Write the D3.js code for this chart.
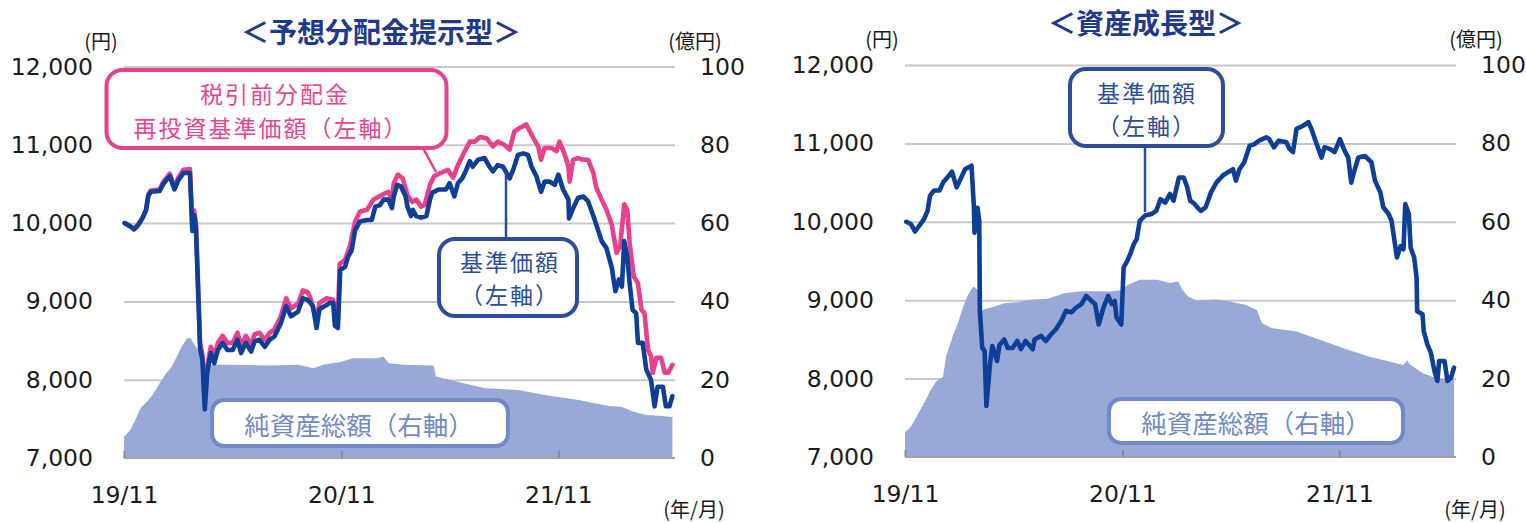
<!DOCTYPE html>
<html><head><meta charset="utf-8">
<script src="https://cdn.jsdelivr.net/npm/d3@7"></script>
<style>
body{margin:0;background:#fff;}
svg text{font-family:"Noto Sans CJK JP","DejaVu Sans",sans-serif;}
</style></head><body>
<svg id="c" width="1526" height="523"></svg>
<script>
// ---------- DATA ----------
const xTickDates = ["2019-11-01","2020-11-01","2021-11-01"];
const xTickLabels = ["19/11","20/11","21/11"];
const leftTicks = [7000,8000,9000,10000,11000,12000];
const rightTicks = [0,20,40,60,80,100];
const dateStart = "2019-11-01", dateEnd = "2022-05-13";

// 予想分配金提示型 基準価額 (円)
const navA = [["2019-11-02",10000],["2019-11-11",9960],["2019-11-18",9920],["2019-11-25",9975],["2019-12-02",10060],["2019-12-08",10160],["2019-12-12",10350],["2019-12-16",10400],["2019-12-31",10410],["2020-01-06",10500],["2020-01-17",10600],["2020-01-25",10430],["2020-01-31",10540],["2020-02-09",10640],["2020-02-20",10640],["2020-02-24",9900],["2020-02-27",10100],["2020-03-01",9950],["2020-03-04",9300],["2020-03-08",8400],["2020-03-12",8250],["2020-03-16",7620],["2020-03-20",8090],["2020-03-26",8340],["2020-04-01",8210],["2020-04-07",8380],["2020-04-15",8470],["2020-04-23",8380],["2020-05-02",8380],["2020-05-10",8510],["2020-05-16",8340],["2020-05-24",8470],["2020-06-02",8360],["2020-06-08",8490],["2020-06-16",8510],["2020-06-25",8420],["2020-07-03",8510],["2020-07-11",8550],["2020-07-22",8720],["2020-07-31",8940],["2020-08-08",8810],["2020-08-20",8870],["2020-08-28",9040],["2020-09-05",9020],["2020-09-14",8940],["2020-09-20",8660],["2020-09-25",8900],["2020-10-04",8940],["2020-10-12",8980],["2020-10-18",8980],["2020-10-21",8690],["2020-10-26",8660],["2020-10-30",9400],["2020-11-07",9440],["2020-11-12",9570],["2020-11-18",9650],["2020-11-24",9910],["2020-12-02",10020],["2020-12-14",10040],["2020-12-22",10040],["2020-12-28",10210],["2021-01-05",10230],["2021-01-11",10300],["2021-01-19",10300],["2021-01-25",10190],["2021-01-28",10340],["2021-02-03",10490],["2021-02-09",10470],["2021-02-17",10340],["2021-02-20",10210],["2021-02-26",10090],["2021-03-01",10170],["2021-03-07",10090],["2021-03-15",10070],["2021-03-24",10090],["2021-03-30",10300],["2021-04-03",10390],["2021-04-14",10430],["2021-04-26",10430],["2021-05-02",10510],["2021-05-10",10340],["2021-05-16",10510],["2021-05-24",10580],["2021-05-30",10680],["2021-06-05",10790],["2021-06-10",10720],["2021-06-19",10810],["2021-06-30",10830],["2021-07-08",10720],["2021-07-14",10660],["2021-07-22",10740],["2021-07-31",10720],["2021-08-11",10570],["2021-08-17",10680],["2021-08-25",10870],["2021-09-03",10890],["2021-09-11",10870],["2021-09-17",10720],["2021-09-25",10600],["2021-10-03",10400],["2021-10-09",10530],["2021-10-17",10530],["2021-10-26",10490],["2021-11-01",10620],["2021-11-09",10430],["2021-11-18",10300],["2021-11-19",10060],["2021-11-26",10190],["2021-12-04",10320],["2021-12-13",10340],["2021-12-21",10280],["2021-12-30",10090],["2022-01-07",9910],["2022-01-13",9770],["2022-01-21",9680],["2022-01-30",9430],["2022-02-05",9130],["2022-02-11",9280],["2022-02-16",9190],["2022-02-20",9770],["2022-02-25",9570],["2022-03-01",9230],["2022-03-06",8890],["2022-03-12",8850],["2022-03-15",8470],["2022-03-23",8470],["2022-03-29",8130],["2022-04-06",8000],["2022-04-12",7660],["2022-04-17",7910],["2022-04-26",7910],["2022-05-01",7660],["2022-05-07",7660],["2022-05-12",7790]];

// 予想分配金提示型 税引前分配金再投資基準価額 (円)
const navAReinv = [["2019-11-02",10000],["2019-11-11",9965],["2019-11-18",9925],["2019-11-25",9985],["2019-12-02",10070],["2019-12-08",10170],["2019-12-12",10365],["2019-12-16",10415],["2019-12-31",10430],["2020-01-06",10525],["2020-01-17",10630],["2020-01-25",10460],["2020-01-31",10575],["2020-02-09",10680],["2020-02-20",10690],["2020-02-24",9960],["2020-02-27",10160],["2020-03-01",10010],["2020-03-04",9370],["2020-03-08",8470],["2020-03-12",8320],["2020-03-16",7690],["2020-03-20",8170],["2020-03-26",8420],["2020-04-01",8290],["2020-04-07",8470],["2020-04-15",8560],["2020-04-23",8470],["2020-05-02",8470],["2020-05-10",8600],["2020-05-16",8430],["2020-05-24",8560],["2020-06-02",8450],["2020-06-08",8580],["2020-06-16",8600],["2020-06-25",8510],["2020-07-03",8600],["2020-07-11",8640],["2020-07-22",8810],["2020-07-31",9040],["2020-08-08",8910],["2020-08-20",8970],["2020-08-28",9140],["2020-09-05",9120],["2020-09-09",9060],["2020-09-20",8745],["2020-09-25",8980],["2020-10-07",9040],["2020-10-18",9020],["2020-10-23",8810],["2020-10-26",8780],["2020-10-29",9480],["2020-11-07",9530],["2020-11-15",9700],["2020-11-24",10020],["2020-12-02",10145],["2020-12-14",10170],["2020-12-25",10300],["2021-01-08",10360],["2021-01-19",10400],["2021-01-25",10300],["2021-01-28",10510],["2021-02-04",10620],["2021-02-12",10570],["2021-02-20",10360],["2021-02-28",10270],["2021-03-07",10300],["2021-03-15",10210],["2021-03-21",10230],["2021-03-30",10490],["2021-04-06",10600],["2021-04-17",10640],["2021-04-29",10680],["2021-05-08",10580],["2021-05-16",10740],["2021-05-27",10910],["2021-06-05",11040],["2021-06-13",11040],["2021-06-22",11100],["2021-07-03",11085],["2021-07-14",10980],["2021-07-22",11040],["2021-08-02",11000],["2021-08-11",10940],["2021-08-19",11170],["2021-08-28",11215],["2021-09-08",11260],["2021-09-14",11170],["2021-09-20",11085],["2021-09-28",10980],["2021-10-03",10810],["2021-10-09",10960],["2021-10-20",10960],["2021-10-29",10920],["2021-11-03",11040],["2021-11-12",10870],["2021-11-18",10720],["2021-11-20",10530],["2021-11-26",10810],["2021-12-04",10830],["2021-12-13",10810],["2021-12-21",10810],["2021-12-30",10640],["2022-01-04",10450],["2022-01-13",10300],["2022-01-21",10170],["2022-01-30",9980],["2022-02-07",9620],["2022-02-13",9700],["2022-02-20",10240],["2022-02-25",10170],["2022-03-01",9750],["2022-03-08",9320],["2022-03-15",9230],["2022-03-21",8890],["2022-03-26",8850],["2022-04-01",8380],["2022-04-06",8300],["2022-04-09",8090],["2022-04-15",8280],["2022-04-23",8280],["2022-04-29",8090],["2022-05-05",8090],["2022-05-12",8190]];

// 予想分配金提示型 純資産総額 (億円)
const aumA = [["2019-11-01",5.4],["2019-11-12",7.2],["2019-11-20",9.7],["2019-11-29",12.8],["2019-12-10",14.4],["2019-12-19",16.1],["2019-12-31",19.1],["2020-01-09",21.2],["2020-01-20",23.3],["2020-01-29",25.9],["2020-02-06",28.4],["2020-02-15",30.6],["2020-02-21",30.6],["2020-03-01",28.4],["2020-03-09",26.7],["2020-03-18",24.0],["2020-03-23",23.8],["2020-05-01",23.8],["2020-07-01",23.6],["2020-08-20",23.8],["2020-09-15",22.9],["2020-10-01",23.8],["2020-11-01",24.6],["2020-11-20",25.5],["2021-01-01",25.5],["2021-01-10",25.9],["2021-01-20",24.2],["2021-02-15",23.8],["2021-04-05",23.6],["2021-04-09",20.8],["2021-05-15",19.5],["2021-06-20",18.2],["2021-07-01",17.8],["2021-08-25",17.4],["2021-10-10",16.1],["2021-12-05",14.8],["2022-01-25",13.3],["2022-02-15",13.1],["2022-03-08",11.8],["2022-03-28",11.0],["2022-04-20",10.8],["2022-05-12",10.5]];

// 資産成長型 基準価額 (円)
const navB = [["2019-11-03",10000],["2019-11-11",9970],["2019-11-18",9876],["2019-11-25",9950],["2019-12-03",10034],["2019-12-09",10140],["2019-12-13",10330],["2019-12-20",10400],["2019-12-29",10400],["2020-01-04",10500],["2020-01-12",10570],["2020-01-19",10640],["2020-01-27",10440],["2020-02-04",10570],["2020-02-10",10670],["2020-02-21",10715],["2020-02-25",10180],["2020-02-26",9860],["2020-03-02",10180],["2020-03-05",10010],["2020-03-06",8860],["2020-03-10",8395],["2020-03-14",8350],["2020-03-17",7650],["2020-03-23",8183],["2020-03-27",8416],["2020-04-04",8225],["2020-04-08",8430],["2020-04-16",8500],["2020-04-22",8390],["2020-04-30",8390],["2020-05-08",8480],["2020-05-14",8375],["2020-05-22",8480],["2020-06-03",8375],["2020-06-06",8500],["2020-06-17",8545],["2020-06-25",8480],["2020-07-04",8565],["2020-07-12",8630],["2020-07-21",8735],["2020-07-29",8865],["2020-08-07",8845],["2020-08-15",8905],["2020-08-24",8950],["2020-09-01",9055],["2020-09-10",8990],["2020-09-16",8950],["2020-09-22",8690],["2020-09-30",8905],["2020-10-08",9055],["2020-10-14",8950],["2020-10-19",8990],["2020-10-22",8780],["2020-10-30",8690],["2020-11-03",9417],["2020-11-09",9500],["2020-11-14",9587],["2020-11-20",9715],["2020-11-25",9780],["2020-11-30",10010],["2020-12-09",10080],["2020-12-20",10100],["2020-12-28",10140],["2021-01-04",10290],["2021-01-12",10245],["2021-01-20",10355],["2021-01-26",10270],["2021-02-04",10565],["2021-02-12",10565],["2021-02-18",10440],["2021-02-23",10270],["2021-03-02",10230],["2021-03-07",10185],["2021-03-13",10140],["2021-03-21",10185],["2021-03-30",10375],["2021-04-08",10500],["2021-04-19",10590],["2021-04-27",10630],["2021-05-06",10670],["2021-05-11",10525],["2021-05-17",10670],["2021-05-25",10760],["2021-06-03",10970],["2021-06-11",10990],["2021-06-19",11035],["2021-07-01",11077],["2021-07-06",11055],["2021-07-14",10950],["2021-07-22",11035],["2021-08-04",11015],["2021-08-09",10930],["2021-08-15",10890],["2021-08-21",11185],["2021-09-01",11225],["2021-09-10",11270],["2021-09-15",11185],["2021-09-24",10990],["2021-10-02",10820],["2021-10-07",10950],["2021-10-16",10930],["2021-10-24",10890],["2021-11-02",11055],["2021-11-10",10905],["2021-11-16",10820],["2021-11-21",10500],["2021-11-27",10670],["2021-12-03",10820],["2021-12-14",10840],["2021-12-25",10760],["2021-12-31",10525],["2022-01-09",10375],["2022-01-14",10185],["2022-01-23",10100],["2022-01-28",10010],["2022-02-01",9800],["2022-02-06",9545],["2022-02-12",9690],["2022-02-17",9650],["2022-02-20",10225],["2022-02-26",10100],["2022-03-01",9670],["2022-03-07",9545],["2022-03-11",9290],["2022-03-12",8860],["2022-03-21",8820],["2022-03-23",8610],["2022-03-29",8440],["2022-04-04",8330],["2022-04-10",8100],["2022-04-15",7970],["2022-04-18",8225],["2022-04-27",8225],["2022-05-02",7970],["2022-05-08",8010],["2022-05-13",8140]];

// 資産成長型 純資産総額 (億円)
const aumB = [["2019-11-01",6.3],["2019-11-11",7.7],["2019-11-22",10.7],["2019-12-03",13.7],["2019-12-14",17.1],["2019-12-23",19.2],["2020-01-04",20.5],["2020-01-09",25.6],["2020-01-20",30.7],["2020-01-29",34.1],["2020-02-07",38.4],["2020-02-15",41.4],["2020-02-24",43.5],["2020-03-02",42.7],["2020-03-10",37.5],["2020-03-16",37.8],["2020-03-24",38.1],["2020-04-16",39.2],["2020-05-08",39.5],["2020-05-31",40.1],["2020-06-28",40.4],["2020-07-26",41.8],["2020-08-24",42.3],["2020-09-18",42.3],["2020-10-11",42.2],["2020-11-02",42.6],["2020-11-09",43.9],["2020-11-30",45.2],["2020-12-29",45.2],["2021-01-20",44.4],["2021-02-03",44.8],["2021-02-10",42.6],["2021-02-20",40.9],["2021-03-05",39.9],["2021-04-09",40.2],["2021-04-30",39.7],["2021-05-28",38.8],["2021-06-15",37.5],["2021-06-24",34.1],["2021-07-10",32.9],["2021-08-21",32.0],["2021-09-29",29.9],["2021-11-07",27.8],["2021-12-22",25.6],["2022-02-17",23.5],["2022-02-23",24.7],["2022-02-28",23.6],["2022-03-21",21.4],["2022-04-13",20.1],["2022-05-13",19.7]];

// ---------- DRAW ----------
const parse = d3.timeParse("%Y-%m-%d");
const svg = d3.select("#c");
const C = {grid:"#c8c8c8", axis:"#a3a3a3", area:"#98a9d7", blue:"#0d3f98", pink:"#e8408c",
           boxBlue:"#2b4d9c", boxGray:"#7189c8", title:"#1f3a8c", text:"#1a1a1a"};
const numFont = "'DejaVu Sans', sans-serif";

function panel(cfg){
  const g = svg.append("g");
  const x = d3.scaleTime().domain([parse(dateStart), parse(dateEnd)]).range([cfg.x0, cfg.x1]);
  const yL = d3.scaleLinear().domain([7000,12000]).range([cfg.yb, cfg.yt]);
  const yR = d3.scaleLinear().domain([0,100]).range([cfg.yb, cfg.yt]);

  // gridlines
  g.append("g").attr("transform",`translate(${cfg.x0},0)`)
    .call(d3.axisLeft(yL).tickValues(leftTicks.slice(1)).tickSize(-(cfg.x1 + 2 - cfg.x0)).tickFormat(""))
    .call(a=>{a.select(".domain").remove(); a.selectAll("line").attr("stroke",C.grid).attr("stroke-width",2);});

  // area (右軸)
  g.append("path").datum(cfg.aum)
    .attr("fill", C.area)
    .attr("d", d3.area().x(d=>x(parse(d[0]))).y0(yR(0)).y1(d=>yR(d[1])));

  // x axis
  const xa = g.append("g").attr("transform",`translate(0,${cfg.yb})`)
    .call(d3.axisBottom(x).tickValues(xTickDates.map(parse)).tickSizeInner(-7).tickSizeOuter(0)
      .tickFormat((d,i)=>xTickLabels[i]));
  xa.select(".domain").attr("stroke",C.axis).attr("stroke-width",2)
    .attr("d", `M${cfg.x0},0H${cfg.x1+2}`);
  xa.selectAll(".tick line").attr("stroke","#8a8a8a").attr("stroke-width",2);
  xa.selectAll("text").attr("y", 37).attr("dy","0.36em")
    .attr("fill",C.text).style("font-family",numFont).style("font-size","23.5px");

  // left axis labels
  g.append("g").attr("transform",`translate(${cfg.x0},0)`)
    .call(d3.axisLeft(yL).tickValues(leftTicks).tickSize(0).tickPadding(31).tickFormat(d3.format(",")))
    .call(a=>{a.select(".domain").remove();
      a.selectAll("text").attr("fill",C.text).style("font-family",numFont).style("font-size","23.5px");});
  // right axis labels
  g.append("g").attr("transform",`translate(${cfg.x1},0)`)
    .call(d3.axisRight(yR).tickValues(rightTicks).tickSize(0).tickPadding(27))
    .call(a=>{a.select(".domain").remove();
      a.selectAll("text").attr("fill",C.text).style("font-family",numFont).style("font-size","23.5px");});

  // lines
  const line = d3.line().x(d=>x(parse(d[0]))).y(d=>yL(d[1])).curve(d3.curveLinear);
  (cfg.lines||[]).forEach(L=>{
    g.append("path").datum(L.data).attr("fill","none").attr("stroke",L.color)
      .attr("stroke-width",4.6).attr("stroke-linejoin","round").attr("stroke-linecap","round")
      .attr("d", line);
  });

  // unit labels & title
  const t = (tx,ty,s,size,opt={})=>g.append("text").attr("x",tx).attr("y",ty)
     .attr("text-anchor",opt.anchor||"middle").attr("dominant-baseline","central")
     .attr("fill",opt.fill||C.text).style("font-size",size+"px")
     .style("font-weight",opt.weight||400).text(s);
  t(cfg.titleX, cfg.titleY, cfg.title, 28, {fill:C.title, weight:700});
  t(cfg.x0-23, cfg.unitY, "(円)", 20);
  t(cfg.x1+22, cfg.unitY, "(億円)", 20);
  t(cfg.x1+21, 508, "(年/月)", 20);
  return {g, t};
}

function box(g, bx, by, bw, bh, r, stroke, cx, cy, lines, fill, lh, fs, ls){
  g.append("rect").attr("x",bx).attr("y",by).attr("width",bw).attr("height",bh)
    .attr("rx",r).attr("ry",r).attr("fill","#fff").attr("stroke",stroke).attr("stroke-width",4);
  lines.forEach((l,i)=>{
    g.append("text").attr("x", cx + (l[1]||0)).attr("y", cy + i*lh)
      .attr("text-anchor","middle").attr("dominant-baseline","central")
      .attr("fill",fill).style("font-size",fs+"px").style("letter-spacing",(ls||0)+"px").text(l[0]);
  });
}
function leader(g, x1,y1,x2,y2,color){
  g.append("line").attr("x1",x1).attr("y1",y1).attr("x2",x2).attr("y2",y2)
    .attr("stroke",color).attr("stroke-width",2.5);
}

// Left panel
const P1 = panel({x0:124, x1:673, yt:66.5, yb:458, aum:aumA, unitY:40,
  lines:[{data:navAReinv,color:C.pink},{data:navA,color:C.blue}],
  title:"＜予想分配金提示型＞", titleX:381, titleY:31});
leader(P1.g, 423,148, 436,172, C.pink);
leader(P1.g, 506,172, 506,239, C.boxBlue);
box(P1.g, 106.5,70, 340,78, 16, C.pink, 271, 93, [["税引前分配金",4],["再投資基準価額（左軸）",0]], "#e8458f", 33.5, 23, 2);
box(P1.g, 439,239, 138,77, 16, C.boxBlue, 510, 260.5, [["基準価額"],["（左軸）"]], C.boxBlue, 33.5, 23, 2);
box(P1.g, 212,400, 296,46, 12, C.boxGray, 359, 423, [["純資産総額（右軸）"]], C.boxGray, 0, 25.5, 0);

// Right panel
const P2 = panel({x0:905, x1:1454, yt:65, yb:457, aum:aumB, unitY:38,
  lines:[{data:navB,color:C.blue}],
  title:"＜資産成長型＞", titleX:1146, titleY:22});
leader(P2.g, 1145,146, 1145,212, C.boxBlue);
box(P2.g, 1070,69, 153,77, 16, C.boxBlue, 1147, 91.5, [["基準価額"],["（左軸）"]], C.boxBlue, 33.5, 23, 2);
box(P2.g, 1109,399, 294,44, 12, C.boxGray, 1256, 421, [["純資産総額（右軸）"]], C.boxGray, 0, 25.5, 0);
</script>
</body></html>
